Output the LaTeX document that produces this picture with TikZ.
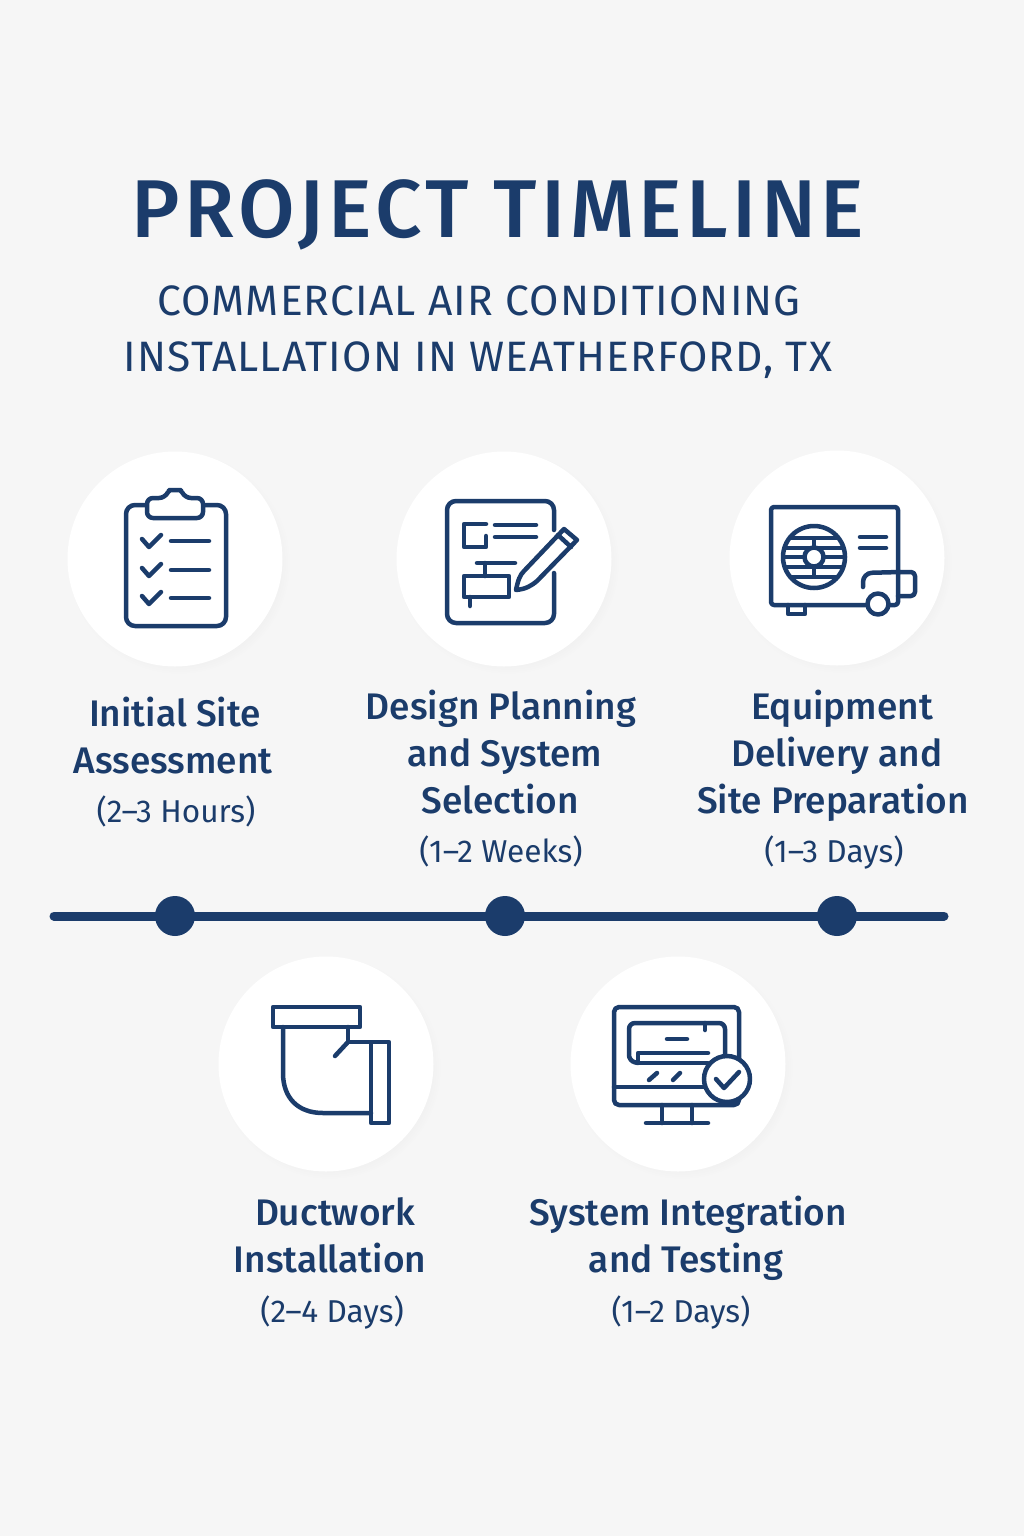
\documentclass[tikz,border=0pt]{standalone}
\usepackage{fontspec}
\setmainfont{Fira Sans}
\newfontfamily\mediumfont{Fira Sans Medium}
\newfontfamily\titlefont[LetterSpace=5.4]{Fira Sans Medium}
\newfontfamily\subfont[LetterSpace=2.7]{Fira Sans}
\usetikzlibrary{shadows}
\definecolor{navy}{HTML}{1B3C6B}
\definecolor{paper}{HTML}{F6F6F6}
\tikzset{
    disc/.style={circle,fill=white,minimum size=215pt,inner sep=0pt,
        circular drop shadow={shadow scale=1.03,shadow xshift=4pt,shadow yshift=-4pt,opacity=0.06}},
    dot/.style={circle,fill=navy,minimum size=40pt,inner sep=0pt},
    iconline/.style={draw=navy,line width=4.5pt,line join=round,line cap=round},
    titletext/.style={anchor=base,inner sep=0pt,text=navy,font=\titlefont\fontsize{82}{82}\selectfont},
    subtext/.style={anchor=base,inner sep=0pt,text=navy,font=\subfont\fontsize{42.5}{42}\selectfont},
    steptext/.style={anchor=base,inner sep=0pt,text=navy,font=\mediumfont\fontsize{37}{36}\selectfont},
    timetext/.style={anchor=base,inner sep=0pt,text=navy,font=\fontsize{31.6}{30}\selectfont}
}
\begin{document}
\begin{tikzpicture}[x=1pt,y=-1pt]
    \fill[paper] (0,0) rectangle (1024,1536);
    \useasboundingbox (0,0) rectangle (1024,1536);

    % heading
    \node[titletext] (title) at (498,237) {PROJECT TIMELINE};
    \node[subtext] (subone) at (479,315) {COMMERCIAL AIR CONDITIONING};
    \node[subtext] (subtwo) at (478,371) {INSTALLATION IN WEATHERFORD, TX};

    % white discs
    \foreach \x/\y [count=\i] in {175/559, 504/559, 837/558, 326/1064, 678/1064} {
        \node[disc] (disc\i) at (\x,\y) {};
    }

    % step labels
    \foreach \x/\y/\t [count=\i] in {175/726/Initial Site, 173/773/Assessment,
        501/719/Design Planning, 505/766/and System, 500/813/Selection,
        842/719/Equipment, 837/766/Delivery and, 833/813/Site Preparation,
        335/1225/Ductwork, 330/1272/Installation,
        688/1225/System Integration, 686/1272/and Testing} {
        \node[steptext] (step\i) at (\x,\y) {\t};
    }
    \foreach \x/\y/\t [count=\i] in {176/822/(2--3 Hours), 501/862/(1--2 Weeks), 834/862/(1--3 Days),
        332/1322/(2--4 Days), 681/1322/(1--2 Days)} {
        \node[timetext] (time\i) at (\x,\y) {\t};
    }

    % timeline
    \coordinate (linestart) at (54,916);
    \coordinate (lineend) at (944,916);
    \draw[navy,line width=9pt,line cap=round] (linestart) -- (lineend);
    \foreach \x [count=\i] in {175, 505, 837} {
        \node[dot] (dot\i) at (\x,916) {};
    }

    % clipboard
    \draw[iconline,rounded corners=9pt] (126,505) rectangle (226,626);
    \draw[iconline,fill=white,rounded corners=6pt] (147,498) -- (165,498)
        .. controls (168,492) and (171,490) .. (175,490)
        .. controls (179,490) and (182,492) .. (185,498)
        -- (203,498) -- (203,518) -- (147,518) -- cycle;
    \foreach \y in {0,29,57} {
        \draw[iconline] (142,539+\y) -- (149,547+\y) -- (161,535+\y);
        \draw[iconline] (171,541+\y) -- (209,541+\y);
    }

    % plan sheet and pencil
    \draw[iconline,rounded corners=9pt] (554,530) -- (554,501) -- (447,501) -- (447,623) -- (554,623) -- (554,573);
    \draw[iconline] (486,536) -- (486,547) -- (464,547) -- (464,524) -- (486,524);
    \draw[iconline] (495,525) -- (536,525);
    \draw[iconline] (495,537) -- (536,537);
    \draw[iconline] (477,563) -- (515,563);
    \draw[iconline] (485,563) -- (485,576);
    \draw[iconline] (464,576) rectangle (509,597);
    \draw[iconline] (470,597) -- (470,606);
    \draw[iconline] (516,590) .. controls (518,580) and (520,575) .. (524,571)
        -- (564,529) -- (577,540) -- (537,581)
        .. controls (531,586) and (526,589) .. (516,590) -- cycle;
    \draw[iconline] (558,535) -- (571,547);

    % outdoor unit
    \draw[iconline,rounded corners=3pt] (771,507) rectangle (898,605);
    \draw[iconline] (788,605) -- (788,614) -- (805,614) -- (805,605);
    \begin{scope}
        \clip (814,557) circle[radius=31];
        \foreach \y in {538,548,557,567,577} {
            \draw[navy,line width=4.5pt] (780,\y) -- (850,\y);
        }
        \draw[navy,line width=4pt] (814,538) -- (814,548);
        \draw[navy,line width=4pt] (814,567) -- (814,577);
    \end{scope}
    \draw[iconline] (814,557) circle[radius=31];
    \draw[iconline,fill=white] (814,557) circle[radius=9.5];
    \draw[iconline] (860,537) -- (886,537);
    \draw[iconline] (860,548) -- (886,548);
    \draw[iconline,rounded corners=9pt] (863,587) -- (863,573) -- (900,572);
    \draw[iconline,rounded corners=4pt] (898,572) -- (915,572) -- (915,596) -- (898,596);
    \draw[iconline,fill=white] (878,604) circle[radius=10.5];

    % duct elbow
    \draw[iconline] (283,1027) -- (283,1073)
        .. controls (283,1098) and (298,1113) .. (323,1113) -- (371,1113);
    \draw[iconline] (348,1027) -- (348,1042) -- (371,1042);
    \draw[iconline] (348,1042) -- (335,1056);
    \draw[iconline] (273,1007) rectangle (360,1027);
    \draw[iconline] (371,1042) rectangle (389,1123);

    % monitor with check badge
    \draw[iconline,rounded corners=5pt] (614,1007) rectangle (739,1105);
    \draw[iconline] (614,1087) -- (739,1087);
    \draw[iconline] (662,1105) -- (662,1123);
    \draw[iconline] (692,1105) -- (692,1123);
    \draw[iconline] (646,1123) -- (708,1123);
    \draw[iconline,rounded corners=6pt] (725,1063) -- (725,1023) -- (629,1023) -- (629,1061) -- (638,1063);
    \draw[iconline] (708,1053) -- (638,1053) -- (638,1063) -- (708,1063);
    \draw[iconline] (705,1023) -- (705,1030);
    \draw[iconline] (667,1039) -- (687,1039);
    \draw[iconline] (649,1080) -- (657,1073);
    \draw[iconline] (673,1080) -- (680,1073);
    \draw[iconline,fill=white] (727,1079) circle[radius=23];
    \draw[iconline] (716,1079) -- (724,1088) -- (739,1072);
\end{tikzpicture}
\end{document}
